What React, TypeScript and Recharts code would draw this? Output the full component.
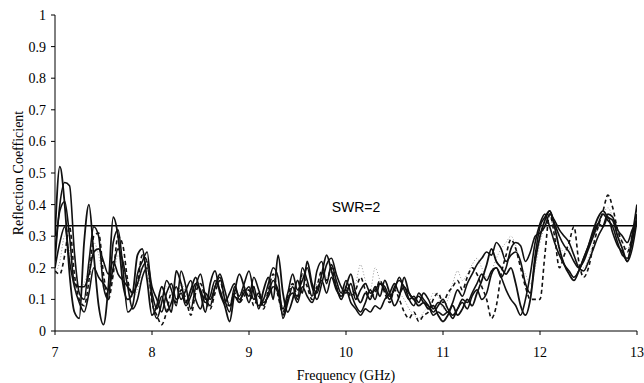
import React from "react";
import { LineChart, Line, XAxis, YAxis, ReferenceLine } from "recharts";

if (typeof document !== "undefined") {
  document.body.style.margin = "0";
}

const FREQ_START = 7;
const FREQ_STEP = 0.05;

const xTicks = [7, 8, 9, 10, 11, 12, 13];
const yTicks = [0, 0.1, 0.2, 0.3, 0.4, 0.5, 0.6, 0.7, 0.8, 0.9, 1];
const swrLevel = 0.333;
const swrLabel = "SWR=2";

const seriesA = [
  0.30, 0.52, 0.40, 0.18, 0.06, 0.04, 0.28, 0.40, 0.24, 0.08, 0.02, 0.14, 0.36, 0.30, 0.15, 0.10, 0.12, 0.24, 0.26, 0.16,
  0.05, 0.08, 0.14, 0.10, 0.06, 0.19, 0.15, 0.09, 0.13, 0.17, 0.12, 0.06, 0.15, 0.19, 0.12, 0.08, 0.03, 0.12, 0.18, 0.14,
  0.09, 0.14, 0.07, 0.13, 0.17, 0.10, 0.24, 0.12, 0.06, 0.10, 0.16, 0.12, 0.22, 0.15, 0.12, 0.18, 0.24, 0.19, 0.14, 0.10,
  0.14, 0.18, 0.12, 0.09, 0.12, 0.10, 0.14, 0.11, 0.16, 0.12, 0.08, 0.11, 0.17, 0.12, 0.10, 0.08, 0.09, 0.07, 0.08, 0.05,
  0.03, 0.05, 0.08, 0.05, 0.07, 0.10, 0.08, 0.12, 0.16, 0.21, 0.26, 0.22, 0.20, 0.18, 0.20, 0.15, 0.08, 0.05, 0.10, 0.22,
  0.30, 0.35, 0.38, 0.33, 0.26, 0.21, 0.18, 0.16, 0.19, 0.23, 0.27, 0.32, 0.36, 0.38, 0.36, 0.35, 0.30, 0.26, 0.22, 0.30, 0.40,
];

const seriesB = [
  0.22, 0.40, 0.47, 0.46, 0.25, 0.12, 0.10, 0.22, 0.33, 0.30, 0.14, 0.10, 0.28, 0.32, 0.20, 0.06, 0.08, 0.18, 0.22, 0.25,
  0.10, 0.04, 0.09, 0.16, 0.13, 0.08, 0.19, 0.14, 0.07, 0.14, 0.18, 0.11, 0.08, 0.14, 0.17, 0.10, 0.06, 0.14, 0.11, 0.15,
  0.19, 0.12, 0.08, 0.10, 0.15, 0.20, 0.17, 0.04, 0.09, 0.14, 0.10, 0.20, 0.16, 0.11, 0.19, 0.22, 0.15, 0.21, 0.16, 0.12,
  0.16, 0.12, 0.08, 0.06, 0.09, 0.13, 0.10, 0.15, 0.14, 0.11, 0.13, 0.17, 0.13, 0.10, 0.11, 0.09, 0.12, 0.10, 0.07, 0.09,
  0.08, 0.06, 0.09, 0.13, 0.11, 0.15, 0.18, 0.21, 0.23, 0.25, 0.24, 0.28, 0.26, 0.22, 0.24, 0.25, 0.22, 0.15, 0.12, 0.24,
  0.33, 0.36, 0.38, 0.34, 0.30, 0.27, 0.25, 0.22, 0.20, 0.22, 0.26, 0.30, 0.34, 0.37, 0.35, 0.33, 0.28, 0.24, 0.23, 0.28, 0.37,
];

const seriesC = [
  0.25, 0.38, 0.41, 0.30, 0.15, 0.14, 0.14, 0.18, 0.25, 0.26, 0.22, 0.18, 0.22, 0.18, 0.16, 0.14, 0.12, 0.15, 0.20, 0.22,
  0.14, 0.10, 0.06, 0.12, 0.15, 0.10, 0.12, 0.08, 0.11, 0.15, 0.13, 0.09, 0.11, 0.16, 0.13, 0.09, 0.12, 0.15, 0.10, 0.12,
  0.14, 0.10, 0.12, 0.08, 0.12, 0.16, 0.13, 0.07, 0.12, 0.18, 0.13, 0.16, 0.20, 0.14, 0.10, 0.15, 0.21, 0.23, 0.18, 0.14,
  0.12, 0.15, 0.10, 0.13, 0.15, 0.12, 0.13, 0.15, 0.13, 0.10, 0.14, 0.16, 0.14, 0.12, 0.10, 0.11, 0.09, 0.08, 0.06, 0.08,
  0.10, 0.07, 0.05, 0.07, 0.10, 0.09, 0.12, 0.15, 0.18, 0.16, 0.19, 0.20, 0.17, 0.20, 0.26, 0.28, 0.27, 0.22, 0.25, 0.30,
  0.31, 0.33, 0.37, 0.35, 0.32, 0.30, 0.28, 0.24, 0.20, 0.19, 0.22, 0.26, 0.30, 0.33, 0.37, 0.36, 0.32, 0.30, 0.28, 0.32, 0.35,
];

const seriesD = [
  0.20, 0.28, 0.33, 0.22, 0.14, 0.09, 0.06, 0.12, 0.20, 0.17, 0.15, 0.13, 0.20, 0.26, 0.22, 0.14, 0.07, 0.10, 0.17, 0.20,
  0.12, 0.07, 0.11, 0.06, 0.09, 0.14, 0.10, 0.13, 0.16, 0.10, 0.07, 0.12, 0.10, 0.14, 0.18, 0.13, 0.08, 0.11, 0.09, 0.13,
  0.11, 0.17, 0.13, 0.09, 0.11, 0.14, 0.12, 0.05, 0.10, 0.12, 0.09, 0.14, 0.11, 0.09, 0.13, 0.16, 0.12, 0.17, 0.13, 0.11,
  0.13, 0.09, 0.07, 0.05, 0.07, 0.06, 0.08, 0.07, 0.10, 0.12, 0.15, 0.12, 0.14, 0.10, 0.08, 0.12, 0.10, 0.08, 0.05, 0.06,
  0.05, 0.06, 0.04, 0.07, 0.09, 0.07, 0.11, 0.13, 0.10, 0.12, 0.18, 0.20, 0.17, 0.13, 0.10, 0.08, 0.05, 0.10, 0.18, 0.28,
  0.34, 0.37, 0.33, 0.28, 0.24, 0.21, 0.19, 0.17, 0.19, 0.23, 0.27, 0.31, 0.34, 0.33, 0.36, 0.31, 0.27, 0.25, 0.22, 0.26, 0.35,
];

const seriesDashed = [
  0.19, 0.18, 0.24, 0.33, 0.18, 0.10, 0.08, 0.16, 0.30, 0.31, 0.18, 0.10, 0.18, 0.30, 0.27, 0.16, 0.12, 0.15, 0.24, 0.22,
  0.09, 0.05, 0.02, 0.06, 0.12, 0.09, 0.13, 0.10, 0.05, 0.12, 0.15, 0.10, 0.07, 0.12, 0.16, 0.10, 0.08, 0.12, 0.09, 0.11,
  0.13, 0.08, 0.11, 0.07, 0.13, 0.18, 0.11, 0.06, 0.11, 0.15, 0.11, 0.18, 0.14, 0.10, 0.14, 0.19, 0.16, 0.20, 0.14, 0.11,
  0.14, 0.11, 0.13, 0.17, 0.13, 0.11, 0.12, 0.16, 0.12, 0.09, 0.13, 0.10, 0.06, 0.04, 0.06, 0.03, 0.05, 0.06, 0.10, 0.12,
  0.09, 0.12, 0.14, 0.16, 0.13, 0.17, 0.20, 0.18, 0.14, 0.10, 0.04, 0.08, 0.18, 0.24, 0.29, 0.26, 0.20, 0.14, 0.10, 0.10,
  0.10, 0.24, 0.37, 0.30, 0.20, 0.24, 0.28, 0.33, 0.22, 0.17, 0.20, 0.27, 0.33, 0.38, 0.43, 0.39, 0.32, 0.28, 0.25, 0.30, 0.38,
];

const seriesDotted = [
  0.18, 0.22, 0.30, 0.25, 0.16, 0.12, 0.15, 0.20, 0.28, 0.24, 0.16, 0.12, 0.17, 0.24, 0.20, 0.15, 0.11, 0.13, 0.19, 0.18,
  0.11, 0.08, 0.10, 0.14, 0.11, 0.09, 0.15, 0.12, 0.09, 0.13, 0.15, 0.12, 0.09, 0.13, 0.15, 0.11, 0.09, 0.13, 0.12, 0.14,
  0.12, 0.10, 0.13, 0.10, 0.14, 0.17, 0.12, 0.08, 0.12, 0.15, 0.12, 0.17, 0.15, 0.12, 0.15, 0.18, 0.17, 0.19, 0.15, 0.12,
  0.14, 0.12, 0.15, 0.21, 0.16, 0.13, 0.20, 0.16, 0.12, 0.11, 0.14, 0.12, 0.10, 0.07, 0.05, 0.04, 0.06, 0.08, 0.12, 0.11,
  0.07, 0.10, 0.15, 0.19, 0.16, 0.18, 0.21, 0.23, 0.20, 0.17, 0.19, 0.23, 0.26, 0.28, 0.30, 0.27, 0.21, 0.18, 0.15, 0.20,
  0.28, 0.33, 0.36, 0.31, 0.27, 0.25, 0.26, 0.24, 0.21, 0.20, 0.23, 0.28, 0.33, 0.37, 0.39, 0.36, 0.31, 0.28, 0.26, 0.30, 0.36,
];

const data = seriesA.map((_, i) => ({
  f: Math.round((FREQ_START + i * FREQ_STEP) * 100) / 100,
  a: seriesA[i],
  b: seriesB[i],
  c: seriesC[i],
  d: seriesD[i],
  e: seriesDashed[i],
  g: seriesDotted[i],
}));

const serif = "'Liberation Serif', 'Times New Roman', serif";
const serifStyle = { fontFamily: serif, fontSize: 14, fill: "#000" };

const XTick = (props: any) => {
  const { x, y, payload } = props;
  return (
    <text x={x} y={y} dy="0.71em" textAnchor="middle" style={serifStyle}>
      {payload.value}
    </text>
  );
};

const YTick = (props: any) => {
  const { x, y, payload } = props;
  return (
    <text x={x} y={y} dy="0.355em" textAnchor="end" style={serifStyle}>
      {payload.value}
    </text>
  );
};

const YLabel = (props: any) => {
  const vb = props.viewBox || { x: 0, y: 0, width: 0, height: 0 };
  const cx = vb.x + 18;
  const cy = vb.y + vb.height / 2;
  return (
    <text
      x={cx}
      y={cy}
      transform={`rotate(-90, ${cx}, ${cy})`}
      textAnchor="middle"
      dominantBaseline="central"
      style={serifStyle}
    >
      Reflection Coefficient
    </text>
  );
};

export default function App() {
  return (
    <div style={{ width: 644, height: 383, background: "#fff" }}>
      <LineChart width={644} height={383} data={data} margin={{ top: 15, right: 7, bottom: 0, left: 0 }}>
        <XAxis
          dataKey="f"
          type="number"
          domain={[7, 13]}
          ticks={xTicks}
          interval={0}
          height={52}
          tickSize={4}
          tickMargin={12}
          tick={<XTick />}
          stroke="#000"
          tickLine={{ stroke: "#000" }}
          axisLine={{ stroke: "#000" }}
          allowDataOverflow
          label={{ value: "Frequency (GHz)", position: "insideBottom", offset: 3, style: serifStyle }}
        />
        <YAxis
          type="number"
          domain={[0, 1]}
          ticks={yTicks}
          interval={0}
          width={55}
          tickSize={4}
          tickMargin={5}
          tick={<YTick />}
          stroke="#000"
          tickLine={{ stroke: "#000" }}
          axisLine={{ stroke: "#000" }}
          label={(p: any) => <YLabel {...p} />}
        />
        <ReferenceLine
          y={swrLevel}
          stroke="#000"
          strokeWidth={1.3}
          ifOverflow="extendDomain"
          label={{ value: swrLabel, position: "top", offset: 14, dx: 10, style: { fontFamily: "'Liberation Sans', Arial, sans-serif", fontSize: 14, fill: "#000" } }}
        />
        <Line type="monotone" dataKey="g" stroke="#9a9a9a" strokeWidth={1} strokeDasharray="1 2" dot={false} isAnimationActive={false} />
        <Line type="monotone" dataKey="e" stroke="#111" strokeWidth={1.6} strokeDasharray="4 3" dot={false} isAnimationActive={false} />
        <Line type="monotone" dataKey="d" stroke="#111" strokeWidth={1.6} dot={false} isAnimationActive={false} />
        <Line type="monotone" dataKey="c" stroke="#111" strokeWidth={1.6} dot={false} isAnimationActive={false} />
        <Line type="monotone" dataKey="b" stroke="#111" strokeWidth={1.6} dot={false} isAnimationActive={false} />
        <Line type="monotone" dataKey="a" stroke="#111" strokeWidth={1.8} dot={false} isAnimationActive={false} />
      </LineChart>
    </div>
  );
}
